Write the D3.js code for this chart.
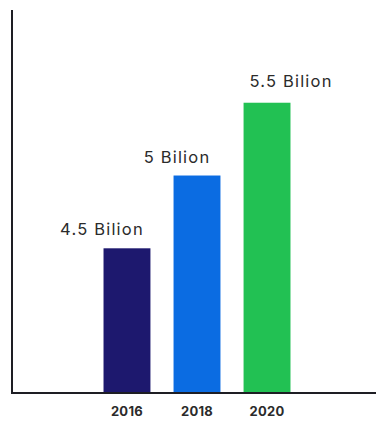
<!DOCTYPE html>
<html>
<head>
<meta charset="utf-8">
<script src="https://cdn.jsdelivr.net/npm/d3@7"></script>
<style>
  body { margin: 0; background: #fff; }
</style>
</head>
<body>
<div id="chart"></div>
<script>
const years = ["2016", "2018", "2020"];
const values = [4.5, 5, 5.5];
const labels = ["4.5 Bilion", "5 Bilion", "5.5 Bilion"];
const colors = ["#1d186e", "#0b6ce2", "#22c153"];

// labels in the original sit a little off the bar centres
const labelShiftX = [-25, -20, 24];
const labelGap = [13, 13, 16];

const width = 376, height = 421;
const axisX = 12, axisTop = 10, baseY = 393;

const svg = d3.select("#chart")
  .append("svg")
  .attr("width", width)
  .attr("height", height);

const x = d3.scaleBand()
  .domain(years)
  .range([33.5, 360.5])
  .paddingInner(0.33)
  .paddingOuter(1);

// axis does not start at zero
const y = d3.scaleLinear()
  .domain([3.506, 6.137])
  .range([baseY, axisTop]);

// bars
svg.selectAll("rect.bar")
  .data(years)
  .enter()
  .append("rect")
  .attr("class", "bar")
  .attr("x", d => x(d))
  .attr("y", (d, i) => y(values[i]))
  .attr("width", x.bandwidth())
  .attr("height", (d, i) => baseY - y(values[i]))
  .attr("fill", (d, i) => colors[i]);

// value labels
svg.selectAll("text.value")
  .data(years)
  .enter()
  .append("text")
  .attr("class", "value")
  .attr("x", (d, i) => x(d) + x.bandwidth() / 2 + labelShiftX[i])
  .attr("y", (d, i) => y(values[i]) - labelGap[i])
  .attr("text-anchor", "middle")
  .style("font-family", "Inter, 'Open Sans', sans-serif")
  .style("font-size", "16.5px")
  .style("letter-spacing", "1.2px")
  .style("fill", "#2b2b2b")
  .text((d, i) => labels[i]);

// x axis labels
const xAxis = svg.append("g")
  .attr("transform", `translate(0, ${baseY})`)
  .call(d3.axisBottom(x).tickSize(0).tickPadding(14));
xAxis.select(".domain").remove();
xAxis.selectAll("text")
  .style("font-family", "Inter, 'Open Sans', sans-serif")
  .style("font-size", "13px")
  .style("font-weight", "700")
  .style("letter-spacing", "0.3px")
  .style("fill", "#2b2b2b");

// axis lines
svg.append("line")
  .attr("x1", axisX).attr("x2", axisX)
  .attr("y1", axisTop).attr("y2", baseY + 1)
  .attr("stroke", "#1e1e24")
  .attr("stroke-width", 2);

svg.append("line")
  .attr("x1", axisX - 1).attr("x2", width)
  .attr("y1", baseY).attr("y2", baseY)
  .attr("stroke", "#1e1e24")
  .attr("stroke-width", 2);
</script>
</body>
</html>
